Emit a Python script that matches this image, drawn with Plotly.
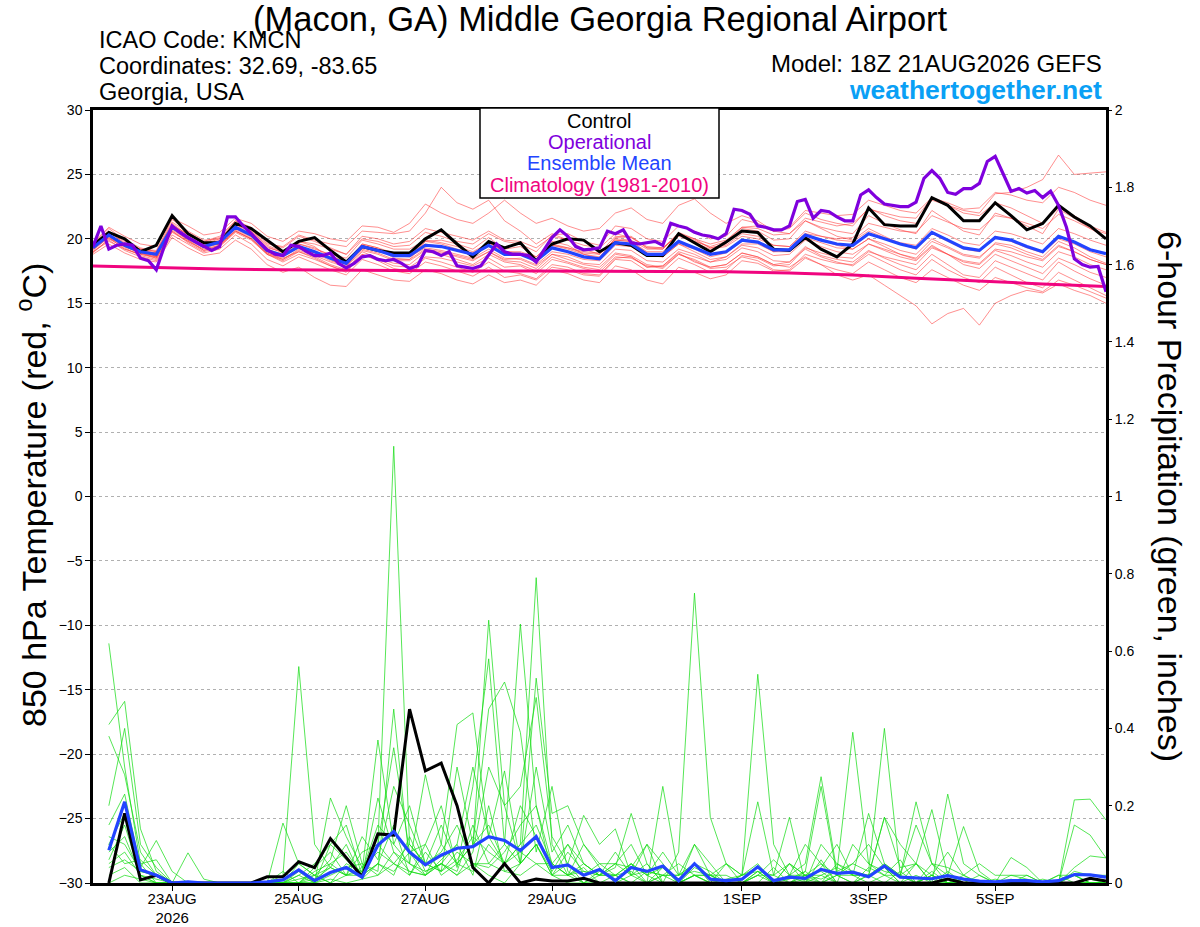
import plotly.graph_objects as go
import pandas as pd

# ---------------- time axes ----------------
times6 = pd.date_range("2026-08-21 18:00", periods=65, freq="6h")
times3 = pd.date_range("2026-08-21 18:00", periods=129, freq="3h")
times_p = times6[1:]
clim_times = pd.date_range("2026-08-21 18:00", periods=17, freq="24h")

x_tick_dates = ["2026-08-23", "2026-08-25", "2026-08-27", "2026-08-29",
                "2026-09-01", "2026-09-03", "2026-09-05"]
x_tick_labels = ["23AUG<br>2026", "25AUG", "27AUG", "29AUG", "1SEP", "3SEP", "5SEP"]
t_ticks = [-30, -25, -20, -15, -10, -5, 0, 5, 10, 15, 20, 25, 30]
p_ticks = [0, 0.2, 0.4, 0.6, 0.8, 1.0, 1.2, 1.4, 1.6, 1.8, 2.0]
p_tick_labels = ["0", "0.2", "0.4", "0.6", "0.8", "1", "1.2", "1.4", "1.6", "1.8", "2"]

# ---------------- 850 hPa temperature (C) ----------------
control_t = [19.5, 20.5, 20.0, 19.0, 19.5, 21.8, 20.4, 19.7, 19.7, 21.2, 20.8, 19.9, 19.0,
             19.8, 20.1, 19.1, 18.2, 19.4, 19.1, 18.9, 18.9, 20.0, 20.7, 19.6, 18.6, 19.8,
             19.3, 19.7, 18.3, 19.6, 20.0, 19.9, 19.0, 19.7, 19.5, 18.7, 18.7, 20.4, 19.7,
             19.0, 19.75, 20.6, 20.5, 19.2, 19.1, 20.1, 19.2, 18.6, 19.6, 22.4, 21.1, 21.0,
             21.0, 23.2, 22.6, 21.4, 21.4, 22.8, 21.8, 20.7, 21.2, 22.6, 21.7, 21.0, 20.0]

mean_t = [19.3, 20.3, 19.5, 19.0, 18.8, 20.9, 20.1, 19.4, 19.75, 20.9, 20.3, 19.1, 18.7,
          19.4, 19.0, 18.5, 18.1, 19.4, 19.1, 18.7, 18.7, 19.5, 19.4, 19.1, 18.8, 19.5,
          18.8, 18.8, 18.3, 19.3, 19.0, 18.6, 18.45, 19.7, 19.6, 18.8, 18.8, 19.8, 19.3,
          18.8, 19.0, 19.9, 19.75, 19.15, 19.15, 20.3, 19.9, 19.6, 19.5, 20.4, 20.0, 19.6,
          19.3, 20.5, 19.9, 19.3, 19.1, 20.1, 19.9, 19.4, 19.0, 20.2, 19.75, 19.15, 18.85]

oper_t = [19.4, 21.0, 19.2, 19.5, 19.6, 19.5, 18.5, 18.3, 17.6, 19.4,
          21.0, 20.5, 20.1, 19.75, 19.4, 19.1, 19.4, 21.7, 21.7, 21.0,
          20.4, 19.75, 19.15, 18.8, 18.7, 19.5, 19.4, 19.0, 18.7, 18.7,
          18.9, 18.1, 17.75, 18.1, 18.6, 18.7, 18.4, 18.3, 18.4, 18.1,
          17.7, 17.9, 19.1, 19.0, 18.7, 19.0, 17.9, 17.8, 17.7, 17.9,
          18.7, 19.6, 19.0, 18.8, 18.8, 18.7, 18.2, 19.2, 20.1, 20.7,
          20.2, 19.4, 19.15, 19.2, 19.3, 20.6, 20.4, 20.7, 19.7, 19.6,
          19.7, 19.8, 19.5, 21.2, 21.0, 20.85, 20.5, 20.3, 20.2, 20.0,
          20.4, 22.3, 22.2, 21.9, 21.0, 20.9, 20.7, 20.7, 21.0, 22.9,
          23.06, 21.6, 22.2, 22.1, 21.7, 21.4, 21.4, 23.4, 23.8, 23.2,
          22.7, 22.6, 22.5, 22.5, 22.85, 24.7, 25.3, 24.7, 23.6, 23.45,
          23.9, 23.9, 24.3, 26.0, 26.4, 25.05, 23.7, 23.9, 23.55, 23.75,
          23.2, 23.7, 22.6, 20.9, 18.45, 18.0, 17.8, 17.85, 15.9]

clim_t = [17.9, 17.75, 17.65, 17.6, 17.55, 17.55, 17.5, 17.5, 17.5, 17.5, 17.45,
          17.35, 17.2, 16.95, 16.7, 16.5, 16.3]

ens_t_01 = [19.6, 20.8, 19.9, 19.3, 19.0, 21.3, 20.5, 19.8, 20.2, 21.4, 20.6, 19.5, 19.0,
            19.8, 19.6, 19.2, 18.8, 20.0, 19.8, 19.4, 19.5, 20.5, 20.2, 19.8, 19.6, 20.4,
            19.8, 19.6, 19.0, 20.3, 20.4, 19.8, 19.5, 21.0, 20.8, 20.0, 19.8, 21.0, 20.6,
            20.0, 20.2, 21.5, 21.2, 20.6, 20.8, 22.0, 21.5, 21.2, 21.0, 22.4, 21.8, 21.4,
            21.2, 23.0, 22.6, 22.2, 22.0, 23.5, 23.6, 24.0, 24.6, 26.5, 25.0, 25.1, 25.2]
ens_t_02 = [19.0, 19.8, 19.2, 18.8, 18.5, 20.5, 19.8, 19.1, 19.4, 20.6, 20.0, 18.8, 18.3,
            19.0, 18.6, 18.0, 17.6, 19.0, 18.5, 18.1, 18.0, 19.0, 18.8, 18.4, 18.0, 18.8,
            18.2, 18.0, 17.5, 18.6, 18.2, 17.8, 17.6, 18.8, 18.6, 17.8, 17.9, 18.9, 18.2,
            17.8, 18.0, 18.9, 18.6, 18.0, 17.8, 18.6, 18.0, 17.2, 16.8, 17.2, 16.4, 15.6,
            14.8, 13.4, 14.2, 14.6, 13.3, 15.0, 15.6, 16.0, 15.8, 16.5, 16.0, 15.6, 15.0]
ens_t_03 = [19.8, 20.0, 19.6, 19.2, 18.6, 21.0, 20.4, 19.6, 19.6, 21.1, 20.6, 19.4, 18.9,
            19.8, 19.4, 18.4, 17.8, 19.6, 19.3, 18.5, 18.4, 19.8, 19.9, 19.6, 19.2, 20.1,
            19.2, 19.4, 18.6, 19.8, 19.5, 18.8, 18.5, 20.1, 20.2, 19.3, 19.2, 20.5, 20.0,
            19.3, 19.6, 20.8, 20.6, 19.9, 20.0, 21.4, 20.9, 20.6, 20.4, 21.8, 21.2, 20.7,
            20.4, 22.2, 21.4, 20.6, 20.3, 22.0, 21.6, 21.0, 20.4, 22.3, 21.6, 20.8, 20.1]
ens_t_04 = [18.9, 20.0, 19.3, 18.7, 18.4, 20.6, 19.7, 19.0, 19.4, 20.5, 19.9, 18.8, 18.2,
            18.8, 18.4, 17.9, 17.4, 18.8, 18.4, 17.9, 17.8, 18.6, 18.5, 18.2, 17.9, 18.5,
            17.8, 17.9, 17.3, 18.4, 18.1, 17.7, 17.4, 18.6, 18.5, 17.9, 17.7, 18.8, 18.4,
            17.8, 18.0, 18.9, 18.6, 18.0, 18.2, 19.4, 18.7, 18.4, 18.2, 19.1, 18.5, 18.0,
            17.6, 18.8, 18.0, 17.2, 17.0, 18.3, 17.8, 17.3, 16.8, 18.2, 17.5, 16.9, 16.4]
ens_t_05 = [19.5, 20.6, 19.8, 19.2, 19.1, 21.5, 20.6, 19.9, 20.0, 21.4, 20.9, 19.7, 19.3,
            20.2, 19.8, 19.3, 18.8, 20.2, 20.0, 19.6, 19.8, 20.8, 20.5, 20.2, 19.9, 20.6,
            19.9, 19.8, 19.3, 20.2, 19.9, 19.5, 19.3, 20.4, 20.1, 19.4, 19.3, 20.3, 19.7,
            19.2, 19.4, 20.2, 20.0, 19.5, 19.4, 20.6, 20.2, 19.9, 19.8, 20.6, 20.1, 19.7,
            19.5, 20.8, 20.3, 19.7, 19.5, 20.6, 20.4, 20.0, 19.6, 20.8, 20.4, 19.9, 19.5]
ens_t_06 = [19.2, 20.2, 19.6, 19.1, 18.9, 21.1, 20.3, 19.6, 20.0, 21.2, 20.7, 19.6, 19.4,
            20.3, 19.9, 19.6, 19.4, 20.6, 20.5, 20.4, 20.6, 22.0, 24.0, 22.8, 22.3, 23.0,
            21.4, 20.6, 19.6, 20.4, 19.9, 19.2, 18.8, 19.9, 19.8, 18.9, 18.6, 19.6, 19.0,
            18.4, 18.6, 19.5, 19.3, 18.7, 18.8, 19.9, 19.4, 19.0, 18.8, 19.6, 19.1, 18.6,
            18.3, 19.4, 18.8, 18.2, 18.0, 19.1, 18.7, 18.2, 17.8, 19.0, 18.6, 18.0, 17.6]
ens_t_07 = [19.4, 20.4, 19.4, 18.9, 18.7, 20.8, 19.9, 19.3, 19.6, 20.6, 20.0, 18.9, 18.5,
            19.0, 18.5, 17.9, 17.5, 18.8, 18.3, 17.7, 17.5, 18.5, 18.2, 17.8, 17.4, 18.2,
            17.5, 17.3, 16.9, 18.0, 17.8, 17.3, 17.2, 18.5, 18.6, 17.8, 17.9, 19.0, 18.6,
            18.2, 18.6, 19.6, 19.6, 19.0, 19.2, 20.4, 20.2, 20.0, 20.1, 21.2, 20.9, 20.6,
            20.5, 21.8, 21.3, 20.8, 20.7, 21.8, 21.6, 21.2, 20.8, 21.9, 21.4, 20.8, 20.4]
ens_t_08 = [19.1, 20.1, 19.2, 18.8, 18.6, 20.7, 19.9, 19.1, 19.5, 20.7, 20.1, 18.9, 18.4,
            19.1, 18.7, 18.2, 17.8, 19.1, 18.8, 18.3, 18.3, 19.1, 18.9, 18.7, 18.4, 19.0,
            18.4, 18.5, 18.0, 19.0, 18.8, 18.4, 18.3, 19.5, 19.4, 18.7, 18.6, 19.6, 19.2,
            18.6, 18.9, 19.8, 19.7, 19.0, 19.0, 20.1, 19.7, 19.3, 19.2, 20.0, 19.6, 19.1,
            18.8, 20.0, 19.4, 18.8, 18.6, 19.6, 19.3, 18.8, 18.4, 19.5, 19.0, 18.4, 18.0]
ens_t_09 = [19.2, 20.3, 19.5, 19.0, 18.7, 20.9, 20.1, 19.4, 19.7, 20.8, 20.2, 19.0, 18.6,
            19.3, 18.9, 18.5, 18.0, 19.3, 19.1, 18.7, 18.6, 19.3, 19.1, 18.8, 18.5, 19.2,
            18.5, 18.4, 17.9, 18.8, 18.4, 18.0, 17.8, 18.9, 18.7, 18.0, 17.8, 18.8, 18.3,
            17.7, 17.8, 18.6, 18.3, 17.6, 17.5, 18.5, 18.0, 17.6, 17.3, 18.2, 17.6, 17.0,
            16.6, 17.6, 17.0, 16.4, 16.0, 17.0, 16.6, 16.2, 15.9, 16.8, 16.4, 15.9, 15.4]
ens_t_10 = [19.6, 20.5, 19.7, 19.1, 18.9, 21.0, 20.2, 19.5, 19.9, 21.0, 20.4, 19.2, 18.8,
            19.6, 19.3, 18.7, 18.2, 19.6, 19.3, 18.9, 18.8, 19.8, 19.6, 19.2, 18.9, 19.7,
            19.0, 18.9, 18.4, 19.5, 19.3, 18.9, 18.8, 20.0, 19.9, 19.2, 19.2, 20.4, 20.0,
            19.6, 19.9, 20.9, 20.8, 20.3, 20.4, 21.6, 21.3, 21.0, 21.2, 22.3, 22.0, 21.7,
            21.6, 23.2, 22.8, 22.3, 22.4, 23.6, 23.4, 23.0, 22.8, 24.0, 23.6, 23.0, 22.6]
ens_t_11 = [19.0, 19.9, 19.1, 18.6, 18.3, 20.3, 19.6, 18.9, 19.2, 20.3, 19.6, 18.4, 17.9,
            18.6, 18.1, 17.6, 17.2, 18.4, 18.0, 17.5, 17.3, 18.2, 17.9, 17.5, 17.1, 17.8,
            17.0, 17.2, 16.8, 17.8, 17.6, 17.2, 17.1, 18.4, 18.3, 17.5, 17.4, 18.5, 18.0,
            17.4, 17.6, 18.7, 18.5, 17.9, 18.0, 19.3, 18.9, 18.6, 18.5, 19.6, 19.2, 18.8,
            18.5, 19.8, 19.3, 18.7, 18.5, 19.7, 19.5, 19.0, 18.6, 19.8, 19.3, 18.6, 18.1]
ens_t_12 = [19.5, 20.6, 19.6, 19.2, 19.0, 21.2, 20.3, 19.7, 20.1, 21.1, 20.5, 19.3, 19.0,
            19.6, 19.2, 18.8, 18.5, 19.9, 19.6, 19.2, 19.2, 19.9, 19.7, 19.4, 19.0, 19.7,
            19.0, 19.0, 18.6, 19.6, 19.3, 19.0, 18.9, 20.2, 20.1, 19.3, 19.3, 20.4, 19.9,
            19.3, 19.5, 20.4, 20.2, 19.5, 19.4, 20.4, 19.9, 19.5, 19.2, 20.0, 19.4, 18.8,
            18.4, 19.5, 18.8, 18.0, 17.7, 18.8, 18.3, 17.8, 17.3, 18.5, 18.0, 17.4, 17.0]
ens_t_13 = [19.3, 20.2, 19.4, 18.9, 18.6, 20.8, 20.0, 19.3, 19.7, 20.8, 20.2, 19.0, 18.7,
            19.4, 19.0, 18.6, 18.2, 19.5, 19.2, 18.8, 18.9, 19.6, 19.4, 19.1, 18.8, 19.4,
            18.8, 18.8, 18.4, 19.5, 19.2, 18.8, 18.6, 19.9, 19.8, 19.0, 19.0, 20.2, 19.8,
            19.4, 19.8, 20.9, 21.0, 20.6, 20.9, 22.2, 22.0, 21.8, 21.9, 23.0, 22.6, 22.2,
            22.0, 23.2, 22.6, 22.0, 21.8, 22.8, 22.4, 21.8, 21.2, 22.4, 21.8, 21.0, 20.5]
ens_t_14 = [19.2, 20.1, 19.4, 18.9, 18.5, 20.6, 19.8, 19.2, 19.5, 20.6, 20.0, 18.8, 18.4,
            19.2, 18.9, 18.3, 17.9, 19.2, 18.9, 18.4, 18.4, 19.2, 19.0, 18.6, 18.3, 19.0,
            18.3, 18.2, 17.7, 18.8, 18.6, 18.1, 18.0, 19.2, 19.1, 18.3, 18.2, 19.2, 18.8,
            18.2, 18.4, 19.3, 19.0, 18.3, 18.2, 19.2, 18.6, 18.2, 17.9, 18.8, 18.2, 17.6,
            17.2, 18.4, 17.6, 17.0, 16.6, 17.8, 17.2, 16.6, 16.2, 17.4, 16.8, 16.2, 15.6]
ens_t_15 = [19.7, 20.9, 20.2, 19.6, 19.4, 21.6, 21.0, 20.3, 20.5, 21.6, 21.2, 20.2, 19.8,
            20.6, 20.4, 20.0, 19.8, 21.0, 20.9, 20.5, 21.2, 22.7, 22.0, 21.5, 21.2, 22.0,
            23.0, 22.0, 21.2, 21.6, 21.0, 20.6, 20.8, 22.0, 22.4, 21.5, 21.2, 22.6, 23.1,
            22.0, 21.2, 21.8, 21.4, 20.6, 20.4, 21.4, 20.8, 20.2, 19.9, 20.8, 20.2, 19.6,
            19.2, 20.4, 19.8, 19.2, 19.0, 20.2, 19.8, 19.3, 18.9, 20.0, 19.6, 19.0, 18.6]
ens_t_16 = [18.8, 19.6, 18.9, 18.4, 18.2, 20.1, 19.3, 18.7, 18.9, 19.9, 19.2, 18.0, 17.4,
            17.8, 17.0, 16.4, 16.3, 17.6, 17.2, 16.8, 16.7, 17.6, 17.3, 16.8, 16.5, 17.2,
            16.6, 16.8, 16.4, 17.6, 17.3, 16.8, 16.6, 17.9, 17.6, 16.8, 16.5, 17.8, 17.4,
            16.9, 17.2, 18.3, 18.1, 17.5, 17.6, 18.8, 18.4, 18.1, 18.0, 19.0, 18.6, 18.3,
            18.0, 19.3, 18.8, 18.3, 18.1, 19.2, 19.0, 18.6, 18.3, 19.4, 19.0, 18.4, 18.0]

# ---------------- 6-hour precipitation (inches) ----------------
control_p = [0, .18, .008, .02, 0, 0, 0, 0, 0, 0, .016, .016, .055, .04, .115, .064,
             .016, .127, .124, .45, .29, .31, .20, .04, 0, .05, 0, .01, .005, .005, .012, 0,
             0, 0, 0, 0, 0, 0, 0, 0, 0, 0, 0, 0, 0, 0, 0, 0,
             0, 0, 0, 0, 0, .01, 0, 0, 0, 0, 0, 0, 0, 0, .012, .005]
mean_p = [.085, .21, .034, .02, 0, .003, 0, 0, 0, 0, .003, .008, .034, .006, .027, .04,
          .015, .098, .133, .08, .047, .072, .09, .094, .12, .11, .084, .12, .04, .047, .02, .035,
          .006, .04, .03, .044, .006, .05, .01, .006, .01, .042, .006, .015, .012, .035, .025, .028,
          .016, .044, .015, .014, .011, .019, .01, .005, .003, .006, .006, .003, .006, .022, .021, .015]

ens_p_01 = [.62, .30, .05, 0, 0, 0, 0, 0, 0, 0, 0, 0, .02, .05, .10, .06,
            .02, .10, 1.13, .10, .05, .08, .15, .05, .02, 0, .05, .10, .02, 0, 0, 0,
            0, .02, 0, 0, 0, 0, 0, 0, 0, .03, 0, 0, .02, .05, 0, 0,
            0, 0, 0, .02, 0, 0, 0, 0, 0, 0, 0, 0, 0, 0, 0, 0]
ens_p_02 = [.41, .47, .14, .03, 0, 0, 0, 0, 0, 0, 0, 0, 0, .02, .06, .20,
            .05, .03, .45, .05, .28, .10, .41, .44, .12, .05, .10, .79, .10, .02, .04, 0,
            .02, 0, 0, .04, 0, 0, 0, 0, 0, 0, 0, .05, 0, .02, 0, 0,
            0, 0, .03, 0, 0, 0, 0, 0, 0, 0, 0, 0, 0, .02, 0, 0]
ens_p_03 = [.38, .28, .08, .02, 0, 0, 0, 0, 0, 0, 0, .02, .56, .10, .04, .02,
            .03, .37, .10, .20, .05, .15, .05, .10, .68, .20, .05, .10, .02, .05, 0, .02,
            .04, .18, .05, 0, 0, .02, 0, 0, 0, 0, 0, 0, .03, 0, .05, .02,
            .02, .04, 0, 0, .03, 0, 0, 0, 0, 0, 0, 0, 0, 0, 0, 0]
ens_p_04 = [.20, .40, .10, .04, 0, 0, 0, 0, 0, 0, 0, 0, 0, 0, .22, .12,
            .04, .10, .35, .08, .10, .20, .04, .25, .58, .10, .67, .20, .05, .10, .05, .02,
            .05, .04, .10, .05, 0, .10, .05, 0, 0, 0, .04, 0, 0, .06, 0, 0,
            .04, .02, 0, .05, 0, 0, .02, 0, 0, 0, 0, 0, 0, .04, .07, .065]
ens_p_05 = [.15, .23, .04, .11, .03, 0, 0, 0, 0, 0, 0, 0, 0, .04, .08, .02,
            .12, .06, .25, .15, .05, .03, .30, .10, .45, .52, .39, .08, .25, .03, 0, .03,
            .02, 0, 0, .25, .02, .05, .03, 0, 0, 0, 0, .02, 0, .04, .10, .02,
            .18, .05, .02, 0, 0, .03, 0, 0, 0, 0, 0, 0, 0, 0, 0, 0]
ens_p_06 = [.10, .18, .05, .06, 0, .078, .01, 0, 0, 0, 0, 0, .02, 0, .10, .15,
            .02, .22, .08, .03, .02, .06, .10, .30, .12, .29, .05, .53, .18, .20, .10, .04,
            0, .05, .02, .08, .02, .10, .02, 0, .02, .04, 0, .01, .03, .25, .02, .05,
            .03, .40, .02, .05, .02, 0, 0, 0, 0, .066, .04, 0, 0, .215, .217, .163]
ens_p_07 = [.08, .12, .02, 0, 0, 0, 0, 0, 0, 0, 0, .155, .05, .02, 0, .05,
            .03, .15, .10, .05, .02, .05, .02, .08, .30, .20, .25, .48, .12, .05, .175, .10,
            .14, .02, .05, 0, .08, .75, .17, .05, 0, .02, 0, 0, .02, 0, .02, .02,
            0, .02, .02, 0, .05, 0, 0, 0, 0, 0, 0, 0, 0, .15, .124, .065]
ens_p_08 = [.12, .10, .03, .02, 0, 0, 0, 0, 0, 0, 0, .03, 0, .03, .05, .02,
            .08, .10, .05, .10, .05, .03, .08, .05, .05, .10, .05, .30, .08, .15, .05, .02,
            .02, .05, 0, .02, .02, .05, 0, .05, .02, .54, .10, .02, .05, .275, .03, .39,
            .05, .03, .02, .21, .05, .02, 0, .02, 0, 0, 0, 0, 0, 0, 0, 0]
ens_p_09 = [.05, .08, .02, 0, 0, 0, 0, 0, 0, 0, 0, 0, .01, .02, .04, .10,
            .01, .05, .15, .02, .10, .02, .05, .10, .15, .05, .10, .15, .05, .02, .10, .05,
            .05, .10, .02, 0, 0, .02, .02, .05, .02, .21, .02, .17, 0, .10, .05, .03,
            .02, .17, .04, .05, .19, .02, .146, .03, 0, 0, 0, 0, .02, 0, 0, 0]
ens_p_10 = [.04, .06, .03, .02, 0, 0, 0, 0, 0, 0, 0, 0, 0, 0, .02, .04,
            .05, .02, .08, .05, .03, .05, .10, .02, .20, .03, .05, .10, .03, .10, .02, .05,
            .02, .03, 0, .02, .05, .02, 0, 0, 0, .02, .06, .02, .10, .05, .02, 0,
            .02, .17, .10, .05, 0, .23, .05, .02, 0, .02, .01, 0, 0, .02, 0, 0]
ens_p_11 = [.02, .04, 0, 0, 0, 0, 0, 0, 0, 0, 0, 0, .05, .02, 0, .02,
            .02, .05, .03, .08, .02, .10, .05, .03, .10, .05, .08, .05, .05, .02, .05, .02,
            .05, .02, .10, 0, 0, .04, .02, 0, .02, .05, 0, .02, .02, .03, 0, .10,
            .05, .02, .06, 0, .02, .08, .02, 0, 0, 0, 0, 0, .02, .02, 0, 0]
ens_p_12 = [0, .02, .01, 0, 0, 0, 0, 0, 0, 0, 0, 0, 0, 0, .01, 0,
            .01, .02, .05, .03, .02, .05, .03, .15, .05, .03, .02, .05, .02, .08, .03, .02,
            .08, .02, .03, .02, .02, .03, .02, .02, 0, .03, .02, .05, .02, .02, .04, .02,
            .02, .05, .02, .15, .05, .04, .02, .05, .02, .02, .02, 0, 0, .03, .02, .02]
ens_p_13 = [.06, .15, .02, .01, 0, 0, 0, 0, 0, 0, 0, 0, .03, 0, .05, .08,
            .02, .05, .02, .12, .03, .05, .02, .05, .04, .08, .15, .20, .02, .02, 0, 0,
            0, 0, .03, .02, 0, .02, .02, 0, 0, .02, .02, 0, .01, 0, .02, 0,
            .02, 0, 0, 0, .02, 0, .01, 0, .01, 0, .02, 0, 0, 0, .01, 0]
ens_p_14 = [.10, .05, .06, .02, 0, 0, 0, 0, 0, 0, 0, 0, 0, .01, .04, .02,
            .04, .08, .05, .02, .08, .03, .06, .12, .08, .05, .20, .12, .05, .02, .03, .02,
            .02, .05, .02, .04, 0, .02, 0, .01, .02, .03, 0, .05, .02, .01, .03, .05,
            .10, .04, 0, 0, .02, 0, 0, 0, 0, .01, 0, .01, 0, 0, 0, 0]

ens_t = [ens_t_01, ens_t_02, ens_t_03, ens_t_04, ens_t_05, ens_t_06, ens_t_07, ens_t_08,
         ens_t_09, ens_t_10, ens_t_11, ens_t_12, ens_t_13, ens_t_14, ens_t_15, ens_t_16]
ens_p = [ens_p_01, ens_p_02, ens_p_03, ens_p_04, ens_p_05, ens_p_06, ens_p_07,
         ens_p_08, ens_p_09, ens_p_10, ens_p_11, ens_p_12, ens_p_13, ens_p_14]

# ---------------- styling ----------------
FONT = "Liberation Sans, Arial, Helvetica, sans-serif"
RED = "rgba(255,60,60,0.72)"
GREEN = "rgba(20,220,20,0.9)"
BLACK = "#000000"
PURPLE = "#7f00dd"
BLUE = "#2244ff"
PINK = "#f0047f"

fig = go.Figure()

for s in ens_t:
    fig.add_trace(go.Scatter(x=times6, y=s, mode="lines", yaxis="y",
                             line=dict(color=RED, width=0.8), hoverinfo="skip"))
fig.add_trace(go.Scatter(x=clim_times, y=clim_t, mode="lines", yaxis="y",
                         line=dict(color=PINK, width=3)))
fig.add_trace(go.Scatter(x=times6, y=control_t, mode="lines", yaxis="y",
                         line=dict(color=BLACK, width=3)))
fig.add_trace(go.Scatter(x=times6, y=mean_t, mode="lines", yaxis="y",
                         line=dict(color=BLUE, width=3.2)))
fig.add_trace(go.Scatter(x=times3, y=oper_t, mode="lines", yaxis="y",
                         line=dict(color=PURPLE, width=3.2)))

for s in ens_p:
    fig.add_trace(go.Scatter(x=times_p, y=s, mode="lines", yaxis="y2",
                             line=dict(color=GREEN, width=0.8), hoverinfo="skip"))
fig.add_trace(go.Scatter(x=times_p, y=control_p, mode="lines", yaxis="y2",
                         line=dict(color=BLACK, width=3)))
fig.add_trace(go.Scatter(x=times_p, y=mean_p, mode="lines", yaxis="y2",
                         line=dict(color=BLUE, width=3.2)))

# plot area on window pixels 93..1106 (x) and 110..883 (y)
W, H = 1200, 927
L, R, T, B = 93, 1106, 110, 883


def px(x):
    return (x - L) / (R - L)


def py(y):
    return (B - y) / (B - T)


annotations = [
    dict(text="(Macon, GA) Middle Georgia Regional Airport", x=px(600), y=py(19),
         xanchor="center", yanchor="middle", font=dict(size=34.5, color="black")),
    dict(text="ICAO Code: KMCN", x=px(97), y=py(40), xanchor="left", yanchor="middle",
         font=dict(size=23.5, color="black")),
    dict(text="Coordinates: 32.69, -83.65", x=px(97), y=py(66), xanchor="left",
         yanchor="middle", font=dict(size=23.5, color="black")),
    dict(text="Georgia, USA", x=px(97), y=py(92), xanchor="left", yanchor="middle",
         font=dict(size=23.5, color="black")),
    dict(text="Model: 18Z 21AUG2026 GEFS", x=px(1104), y=py(63), xanchor="right",
         yanchor="middle", font=dict(size=24, color="black")),
    dict(text="<b>weathertogether.net</b>", x=px(1104), y=py(90), xanchor="right",
         yanchor="middle", font=dict(size=26.5, color="#0aa0f5")),
    dict(text="Control", x=px(599), y=py(121), xanchor="center", yanchor="middle",
         font=dict(size=20, color=BLACK)),
    dict(text="Operational", x=px(599), y=py(142), xanchor="center", yanchor="middle",
         font=dict(size=20, color=PURPLE)),
    dict(text="Ensemble Mean", x=px(599), y=py(163), xanchor="center", yanchor="middle",
         font=dict(size=20, color=BLUE)),
    dict(text="Climatology (1981-2010)", x=px(599), y=py(185), xanchor="center",
         yanchor="middle", font=dict(size=20, color=PINK)),
    dict(text="850 hPa Temperature (red, <sup>o</sup>C)", x=px(31), y=py(495),
         xanchor="center", yanchor="middle", textangle=-90, font=dict(size=34, color="black")),
    dict(text="6-hour Precipitation (green, inches)", x=px(1170), y=py(496),
         xanchor="center", yanchor="middle", textangle=90, font=dict(size=34, color="black")),
]
for a in annotations:
    a.update(xref="paper", yref="paper", showarrow=False)

fig.update_layout(
    width=W, height=H,
    margin=dict(l=L, r=W - R, t=T, b=H - B, autoexpand=False),
    paper_bgcolor="white", plot_bgcolor="white",
    font=dict(family=FONT, color="black"),
    showlegend=False,
    annotations=annotations,
    shapes=[dict(type="rect", xref="paper", yref="paper", layer="above",
                 x0=px(480), x1=px(719), y0=py(198), y1=py(108),
                 fillcolor="white", line=dict(color="black", width=1.5))],
    xaxis=dict(range=["2026-08-21 18:00", "2026-09-06 18:00"],
               tickvals=x_tick_dates, ticktext=x_tick_labels, automargin=False,
               ticks="outside", ticklen=5, tickwidth=1, tickcolor="black",
               ticklabelstandoff=-5,
               showgrid=False, zeroline=False, showline=True, mirror=True,
               linecolor="black", linewidth=2.5, tickfont=dict(size=15)),
    yaxis=dict(range=[-30, 30], tickvals=t_ticks, ticks="outside", ticklen=5,
               tickwidth=1, tickcolor="black", showgrid=True, gridcolor="#b0b0b0",
               griddash="dot", gridwidth=1, zeroline=False, showline=True, automargin=False,
               mirror=True, linecolor="black", linewidth=2.5, tickfont=dict(size=14)),
    yaxis2=dict(range=[0, 2], overlaying="y", side="right", tickvals=p_ticks,
                ticktext=p_tick_labels, ticks="outside", ticklen=5, tickwidth=1,
                tickcolor="black", showgrid=False, zeroline=False, showline=False,
                automargin=False, tickfont=dict(size=14)),
)

# remove the browser's default 8px body margin so the figure sits at the window origin
fig.write_html("out.html", config={"displayModeBar": False},
               post_script="document.body.style.margin='0px';")
